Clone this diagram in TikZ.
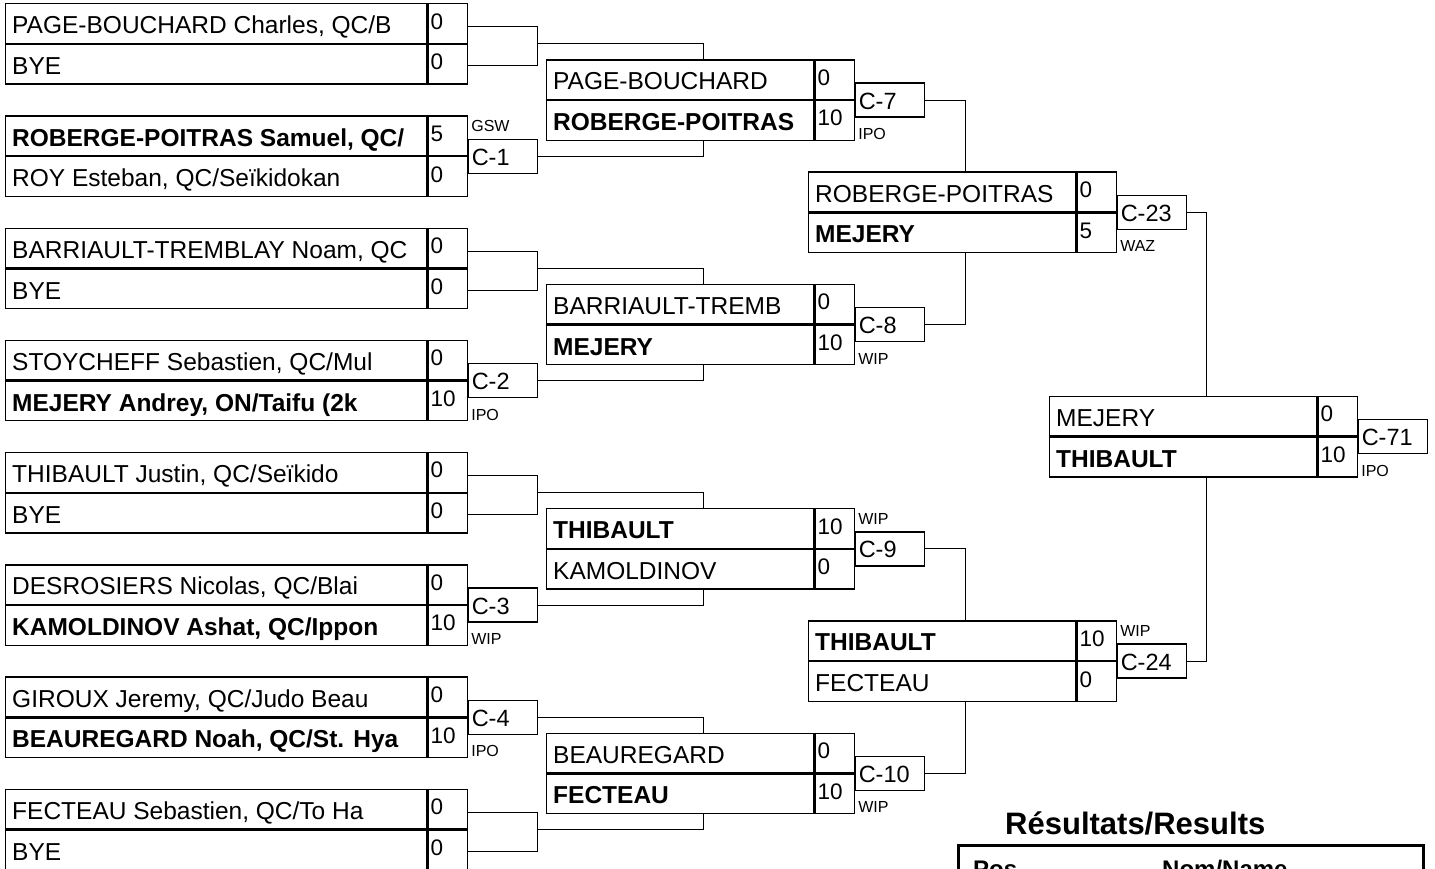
\documentclass[tikz,border=0pt]{standalone}
\usepackage{fontspec}
\setmainfont{Liberation Sans}
\tikzset{
  cell/.style={draw, line width=1.3pt, inner sep=0pt, minimum height=39.5pt},
  scorecell/.style={cell, minimum width=39.5pt},
  nametext/.style={anchor=base west, inner sep=0pt, font=\fontsize{24.5}{28}\selectfont},
  scoretext/.style={anchor=base west, inner sep=0pt, font=\fontsize{22.5}{26}\selectfont},
  cbox/.style={draw, line width=1.3pt, minimum height=34pt, text width=63pt, inner xsep=3pt, inner ysep=0pt, align=left, text height=19pt, text depth=1pt, font=\fontsize{23.5}{27}\selectfont},
  note/.style={anchor=base west, inner sep=0pt, font=\fontsize{16}{18}\selectfont},
  link/.style={line width=1pt},
  midline/.style={line width=2.2pt},
}
% #1 nome, #2 x sinistra, #3 y centro, #4 larghezza colonna nomi
% #5/#6 primo atleta e punti, #7/#8 secondo atleta e punti
\newcommand{\matchbox}[8]{%
  \node[cell, minimum width=#4, anchor=south west] (#1-t) at (#2,#3) {};
  \node[cell, minimum width=#4, anchor=north west] (#1-b) at (#2,#3) {};
  \node[scorecell, anchor=south west] (#1-ts) at (#1-t.south east) {};
  \node[scorecell, anchor=north west] (#1-bs) at (#1-b.north east) {};
  \draw[midline] (#1-t.south west) -- (#1-ts.south east);
  \node[nametext] (#1-tn) at ([xshift=7pt,yshift=-10.25pt]#1-t.west) {#5};
  \node[scoretext] (#1-tp) at ([xshift=3pt,yshift=-5.5pt]#1-ts.west) {#6};
  \node[nametext] (#1-bn) at ([xshift=7pt,yshift=-10.25pt]#1-b.west) {#7};
  \node[scoretext] (#1-bp) at ([xshift=3pt,yshift=-5.5pt]#1-bs.west) {#8};
  \coordinate (#1-in) at ([xshift=157pt]#1-t.north west);
  \coordinate (#1-out) at ([xshift=157pt]#1-b.south west);
}
\begin{document}
\begin{tikzpicture}[x=1pt,y=-1pt]
  \useasboundingbox (0,0) rectangle (1435,869);
  %primo turno
  \matchbox{r1m1}{5}{44}{421pt}{PAGE-BOUCHARD Charles, QC/B}{0}{BYE}{0}
  \matchbox{r1m2}{5}{156.2}{421pt}{\textbf{ROBERGE-POITRAS Samuel, QC/}}{5}{ROY Esteban, QC/Seïkidokan}{0}
  \matchbox{r1m3}{5}{268.4}{421pt}{BARRIAULT-TREMBLAY Noam, QC}{0}{BYE}{0}
  \matchbox{r1m4}{5}{380.6}{421pt}{STOYCHEFF Sebastien, QC/Mul}{0}{\textbf{MEJERY Andrey, ON/Taifu (2k}}{10}
  \matchbox{r1m5}{5}{492.8}{421pt}{THIBAULT Justin, QC/Seïkido}{0}{BYE}{0}
  \matchbox{r1m6}{5}{605}{421pt}{DESROSIERS Nicolas, QC/Blai}{0}{\textbf{KAMOLDINOV Ashat, QC/Ippon}}{10}
  \matchbox{r1m7}{5}{717.2}{421pt}{GIROUX Jeremy, QC/Judo Beau}{0}{\textbf{BEAUREGARD Noah, QC/St. Hya}}{10}
  \matchbox{r1m8}{5}{829.4}{421pt}{FECTEAU Sebastien, QC/To Ha}{0}{BYE}{0}
  %secondo turno
  \matchbox{r2m1}{546}{100.1}{267pt}{PAGE-BOUCHARD}{0}{\textbf{ROBERGE-POITRAS}}{10}
  \matchbox{r2m2}{546}{324.5}{267pt}{BARRIAULT-TREMB}{0}{\textbf{MEJERY}}{10}
  \matchbox{r2m3}{546}{548.9}{267pt}{\textbf{THIBAULT}}{10}{KAMOLDINOV}{0}
  \matchbox{r2m4}{546}{773.3}{267pt}{BEAUREGARD}{0}{\textbf{FECTEAU}}{10}
  %semifinali e finale
  \matchbox{r3m1}{808}{212.3}{267pt}{ROBERGE-POITRAS}{0}{\textbf{MEJERY}}{5}
  \matchbox{r3m2}{808}{661.1}{267pt}{\textbf{THIBAULT}}{10}{FECTEAU}{0}
  \matchbox{r4m1}{1049}{436.7}{267pt}{MEJERY}{0}{\textbf{THIBAULT}}{10}
  %combattimenti
  \node[cbox, anchor=west] (c1) at (r1m2-ts.south east) {C-1};
  \node[cbox, anchor=west] (c2) at (r1m4-ts.south east) {C-2};
  \node[cbox, anchor=west] (c3) at (r1m6-ts.south east) {C-3};
  \node[cbox, anchor=west] (c4) at (r1m7-ts.south east) {C-4};
  \node[cbox, anchor=west] (c7) at (r2m1-ts.south east) {C-7};
  \node[cbox, anchor=west] (c8) at (r2m2-ts.south east) {C-8};
  \node[cbox, anchor=west] (c9) at (r2m3-ts.south east) {C-9};
  \node[cbox, anchor=west] (c10) at (r2m4-ts.south east) {C-10};
  \node[cbox, anchor=west] (c23) at (r3m1-ts.south east) {C-23};
  \node[cbox, anchor=west] (c24) at (r3m2-ts.south east) {C-24};
  \node[cbox, anchor=west] (c71) at (r4m1-ts.south east) {C-71};
  %tecniche
  \node[note] (n1) at ([xshift=3pt,yshift=7pt]c1.north west) {GSW};
  \node[note] (n2) at ([xshift=3pt,yshift=-22pt]c2.south west) {IPO};
  \node[note] (n3) at ([xshift=3pt,yshift=-22pt]c3.south west) {WIP};
  \node[note] (n4) at ([xshift=3pt,yshift=-22pt]c4.south west) {IPO};
  \node[note] (n7) at ([xshift=3pt,yshift=-22pt]c7.south west) {IPO};
  \node[note] (n8) at ([xshift=3pt,yshift=-22pt]c8.south west) {WIP};
  \node[note] (n9) at ([xshift=3pt,yshift=7pt]c9.north west) {WIP};
  \node[note] (n10) at ([xshift=3pt,yshift=-22pt]c10.south west) {WIP};
  \node[note] (n23) at ([xshift=3pt,yshift=-22pt]c23.south west) {WAZ};
  \node[note] (n24) at ([xshift=3pt,yshift=7pt]c24.north west) {WIP};
  \node[note] (n71) at ([xshift=3pt,yshift=-22pt]c71.south west) {IPO};
  %collegamenti
  \foreach \m in {r1m1,r1m3,r1m5,r1m8}
    \draw[link] ([yshift=-3pt]\m-ts.east) -- ++(69,0) |- ([yshift=-1.5pt]\m-bs.east);
  \draw[link] ([xshift=69pt]r1m1-ts.south east) -| (r2m1-in);
  \draw[link] (c1.east) -| (r2m1-out);
  \draw[link] ([xshift=69pt]r1m3-ts.south east) -| (r2m2-in);
  \draw[link] (c2.east) -| (r2m2-out);
  \draw[link] ([xshift=69pt]r1m5-ts.south east) -| (r2m3-in);
  \draw[link] (c3.east) -| (r2m3-out);
  \draw[link] (c4.east) -| (r2m4-in);
  \draw[link] ([xshift=69pt]r1m8-ts.south east) -| (r2m4-out);
  \draw[link] (c7.east) -| (r3m1-in);
  \draw[link] (c8.east) -| (r3m1-out);
  \draw[link] (c9.east) -| (r3m2-in);
  \draw[link] (c10.east) -| (r3m2-out);
  \draw[link] (c23.east) -| (r4m1-in);
  \draw[link] (c24.east) -| (r4m1-out);
  %risultati
  \node[anchor=base west, inner sep=0pt, font=\fontsize{31}{36}\selectfont\bfseries] (restitle) at (1005,834) {Résultats/Results};
  \draw[line width=3pt] (958,845) rectangle (1423,900);
  \node[anchor=base west, inner sep=0pt, font=\fontsize{24}{28}\selectfont\bfseries] (respos) at (973,877) {Pos};
  \node[anchor=base west, inner sep=0pt, font=\fontsize{24}{28}\selectfont\bfseries] (resname) at (1162,877) {Nom/Name};
\end{tikzpicture}
\end{document}
